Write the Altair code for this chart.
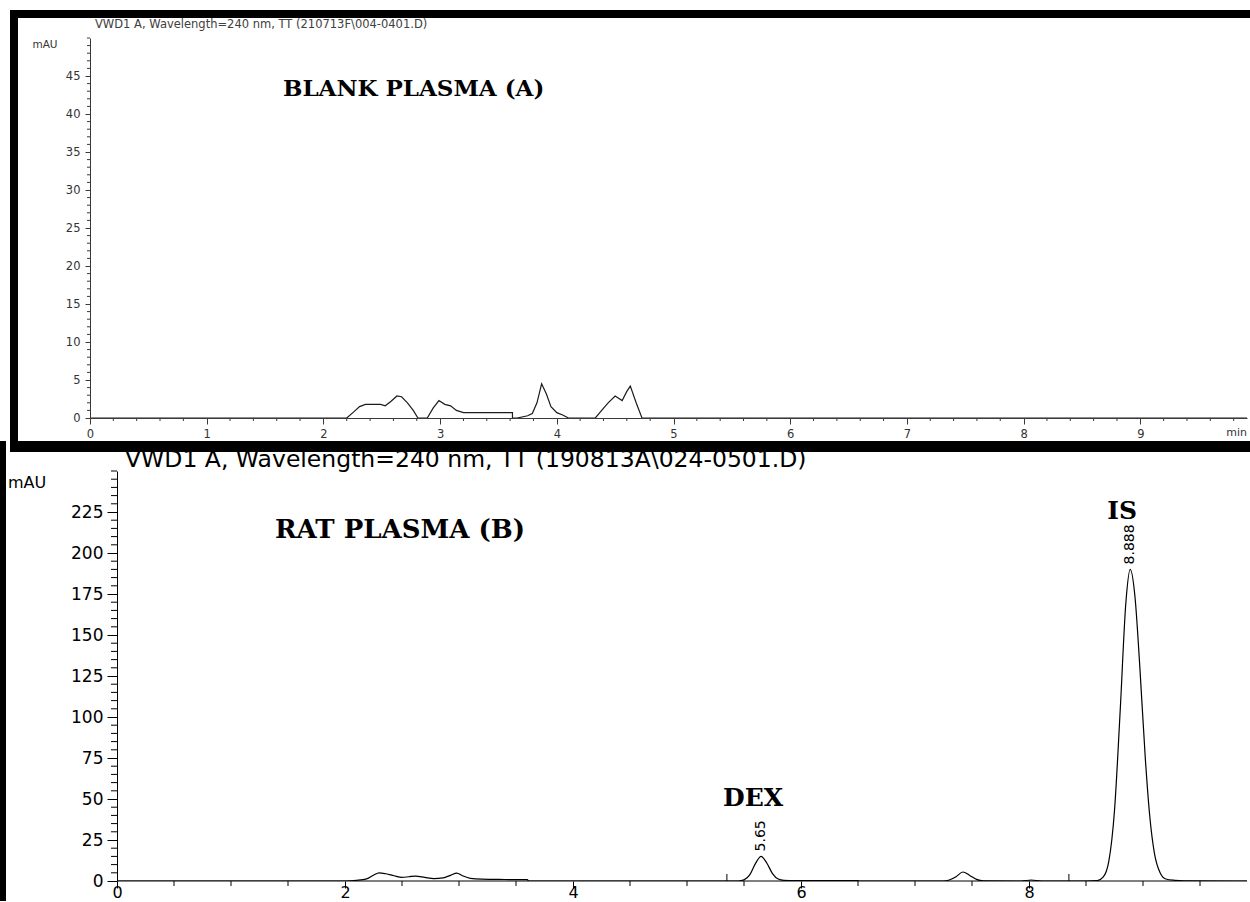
import altair as alt
import pandas as pd

# ---------------------------------------------------------------------------
# Chromatogram data: retention time (min) and absorbance (mAU)
# ---------------------------------------------------------------------------
# (A) blank plasma
A_TIME = [0.00, 2.20, 2.26, 2.31, 2.36, 2.43, 2.49, 2.53, 2.58, 2.63, 2.67,
          2.72, 2.77, 2.81, 2.89, 2.94, 2.99, 3.04, 3.09, 3.14, 3.20, 3.62,
          3.62, 3.66, 3.75, 3.79, 3.83, 3.87, 3.91, 3.95, 4.00, 4.05, 4.10,
          4.33, 4.39, 4.44, 4.50, 4.56, 4.60, 4.63, 4.68, 4.73, 9.95]
A_MAU = [0.0, 0.0, 0.8, 1.5, 1.8, 1.8, 1.8, 1.6, 2.2, 2.9, 2.8,
         2.0, 1.0, 0.0, 0.0, 1.3, 2.3, 1.8, 1.6, 1.0, 0.7, 0.7,
         0.0, 0.0, 0.3, 0.6, 2.0, 4.5, 3.2, 1.5, 0.7, 0.4, 0.0,
         0.0, 1.1, 2.0, 2.9, 2.3, 3.5, 4.2, 2.0, 0.0, 0.0]

# (B) rat plasma
B_TIME = [0.00, 2.00, 2.10, 2.19, 2.25, 2.30, 2.36, 2.43, 2.50, 2.56, 2.62,
          2.70, 2.78, 2.86, 2.93, 2.98, 3.03, 3.10, 3.20, 3.40, 3.60, 3.61,
          5.45, 5.50, 5.55, 5.60, 5.65, 5.70, 5.75, 5.80, 5.85, 5.90, 6.50,
          6.51, 7.25, 7.30, 7.36, 7.42, 7.48, 7.54, 7.60, 7.93, 8.02, 8.11,
          8.50, 8.60, 8.65, 8.70, 8.75, 8.80, 8.85, 8.888, 8.93, 8.97, 9.02,
          9.06, 9.10, 9.15, 9.20, 9.28, 9.36, 9.95]
B_MAU = [0.0, 0.0, 0.4, 1.3, 3.5, 5.0, 4.4, 3.2, 2.2, 2.6, 3.0,
         2.2, 1.5, 1.9, 3.6, 4.8, 3.2, 1.6, 1.1, 0.9, 0.8, 0.0,
         0.0, 0.7, 3.7, 10.6, 15.0, 11.0, 4.5, 1.2, 0.4, 0.3, 0.3,
         0.0, 0.0, 0.6, 2.6, 5.5, 3.4, 1.0, 0.1, 0.0, 0.6, 0.0,
         0.0, 0.3, 2.3, 12.0, 43.0, 104.0, 170.0, 190.0, 173.0, 133.0, 75.0,
         39.0, 17.0, 5.0, 1.2, 0.4, 0.1, 0.0]

# Named peaks in trace B
PEAK_NAME = ["DEX", "IS"]
PEAK_RT = [5.65, 8.888]
PEAK_MAU = [15.0, 190.0]

# Integration event marks on the baseline of trace B
EVENT_RT = [5.35, 8.35]

# Axis ticks
A_XTICKS = [0, 1, 2, 3, 4, 5, 6, 7, 8, 9]
A_YTICKS = [0, 5, 10, 15, 20, 25, 30, 35, 40, 45]
A_XMINOR = [round(i * 0.2, 1) for i in range(50) if i % 5]
A_YMINOR = [i for i in range(51) if i % 5 or i == 50]
B_XTICKS = [0, 2, 4, 6, 8]
B_YTICKS = [0, 25, 50, 75, 100, 125, 150, 175, 200, 225]
B_XMINOR = [i * 0.5 for i in range(20) if i % 4]
B_YMINOR = [i for i in range(0, 251, 5) if i % 25 or i == 250]

TITLE_A = "VWD1 A, Wavelength=240 nm, TT (210713F\\004-0401.D)"
TITLE_B = "VWD1 A, Wavelength=240 nm, TT (190813A\\024-0501.D)"
HEAD_A = "BLANK PLASMA (A)"
HEAD_B = "RAT PLASMA (B)"

# ---------------------------------------------------------------------------
# Geometry of the two panels (pixels)
# ---------------------------------------------------------------------------
W = 1157              # plot width shared by both panels
HA, HB = 380, 410     # plot heights
PX_A, PX_B = 116.7, 114.0   # pixels per minute
B_SHIFT = 27          # y axis of panel B sits this far right of the plot edge

A_XMAX = W / PX_A
B_XMIN = -B_SHIFT / PX_B
B_XMAX = B_XMIN + W / PX_B

SANS = "DejaVu Sans"
SERIF = "DejaVu Serif"
GREY = "#3a3a3a"

ONE = pd.DataFrame({"k": [0]})


def block(x, x2, y, y2, color="black"):
    return alt.Chart(ONE).mark_rect(color=color).encode(
        x=alt.value(x), x2=alt.value(x2), y=alt.value(y), y2=alt.value(y2))


def text(s, x, y, align="left", **kw):
    return alt.Chart(ONE).mark_text(text=s, align=align, baseline="middle", **kw).encode(
        x=alt.value(x), y=alt.value(y))


# ---------------------------------------------------------------------------
# Panel A
# ---------------------------------------------------------------------------
xa = alt.Scale(domain=[0, A_XMAX], nice=False, zero=False)
ya = alt.Scale(domain=[0, 50], nice=False, zero=False)
axA_x = alt.Axis(values=A_XTICKS, format="d", title=None, grid=False, tickSize=6,
                 tickColor=GREY, domainColor=GREY, labelColor="#333", labelFont=SANS,
                 labelFontSize=11.5, labelPadding=4, labelFlush=False, labelOverlap=False)
axA_y = alt.Axis(values=A_YTICKS, format="d", title=None, grid=False, tickSize=5,
                 tickColor=GREY, domainColor=GREY, labelColor="#333", labelFont=SANS,
                 labelFontSize=11.5, labelPadding=5, labelFlush=False, labelOverlap=False)

dfA = pd.DataFrame({"t": A_TIME, "v": A_MAU, "i": range(len(A_TIME))})
traceA = alt.Chart(dfA).mark_line(color="#1c1c1c", strokeWidth=1.2, clip=True).encode(
    x=alt.X("t:Q", scale=xa, axis=axA_x),
    y=alt.Y("v:Q", scale=ya, axis=axA_y),
    order="i:Q",
)
minorAx = alt.Chart(pd.DataFrame({"t": A_XMINOR})).mark_rule(color=GREY).encode(
    x=alt.X("t:Q", scale=xa, axis=axA_x), y=alt.value(HA), y2=alt.value(HA + 3))
minorAy = alt.Chart(pd.DataFrame({"v": A_YMINOR})).mark_rule(color=GREY).encode(
    y=alt.Y("v:Q", scale=ya, axis=axA_y), x=alt.value(-3), x2=alt.value(0))

panelA = alt.layer(
    traceA, minorAx, minorAy,
    block(-80, 1160, -28, -20),        # top frame
    block(-80, -72, -28, 403),         # left frame
    text(TITLE_A, 5, -13, font=SANS, fontSize=11.5, color="#404040"),
    text("mAU", -45, 7, align="center", font=SANS, fontSize=10.5, color="#333"),
    text("min", W, HA + 15, align="right", font=SANS, fontSize=11, color="#333"),
    text(HEAD_A, 193, 51, font=SERIF, fontSize=23, fontWeight="bold", color="black"),
).properties(width=W, height=HA)

# ---------------------------------------------------------------------------
# Panel B
# ---------------------------------------------------------------------------
xb = alt.Scale(domain=[B_XMIN, B_XMAX], nice=False, zero=False)
yb = alt.Scale(domain=[0, 250], nice=False, zero=False)
axB_x = alt.Axis(values=B_XTICKS, format="d", title=None, grid=False, domain=False,
                 tickSize=7, tickColor="black", labelColor="black", labelFont=SANS,
                 labelFontSize=16, labelBaseline="alphabetic", labelPadding=9,
                 labelFlush=False, labelOverlap=False)
axB_y = alt.Axis(values=B_YTICKS, format="d", title=None, grid=False, offset=-B_SHIFT,
                 tickSize=10, tickColor="black", domainColor="black", labelColor="black",
                 labelFont=SANS, labelFontSize=17, labelPadding=4, labelFlush=False,
                 labelOverlap=False)

dfB = pd.DataFrame({"t": B_TIME, "v": B_MAU, "i": range(len(B_TIME))})
traceB = alt.Chart(dfB).mark_line(color="black", strokeWidth=1.2, interpolate="monotone",
                                  clip=True).encode(
    x=alt.X("t:Q", scale=xb, axis=axB_x),
    y=alt.Y("v:Q", scale=yb, axis=axB_y),
    order="i:Q",
)
baseB = alt.Chart(ONE).mark_rule(color="black").encode(
    x=alt.XDatum(0, scale=xb, axis=axB_x), x2=alt.value(W), y=alt.value(HB))
minorBx = alt.Chart(pd.DataFrame({"t": B_XMINOR})).mark_rule(color="black").encode(
    x=alt.X("t:Q", scale=xb, axis=axB_x), y=alt.value(HB), y2=alt.value(HB + 5))
minorBy = alt.Chart(pd.DataFrame({"v": B_YMINOR})).mark_rule(color="black").encode(
    y=alt.Y("v:Q", scale=yb, axis=axB_y), x=alt.value(B_SHIFT - 6), x2=alt.value(B_SHIFT))
eventsB = alt.Chart(pd.DataFrame({"t": EVENT_RT})).mark_rule(color="black").encode(
    x=alt.X("t:Q", scale=xb, axis=axB_x), y=alt.value(HB), y2=alt.value(HB - 7))

peaks = pd.DataFrame({"name": PEAK_NAME, "t": PEAK_RT, "v": PEAK_MAU,
                      "rt": [str(r) for r in PEAK_RT]})
rtLabels = alt.Chart(peaks).mark_text(
    angle=270, align="left", baseline="middle", dx=5, font=SANS, fontSize=14,
    color="black").encode(
    x=alt.X("t:Q", scale=xb, axis=axB_x), y=alt.Y("v:Q", scale=yb, axis=axB_y),
    text="rt:N")
nameLabels = alt.Chart(peaks).mark_text(
    align="center", baseline="middle", dx=-8, dy=-58, font=SERIF, fontSize=25,
    fontWeight="bold", color="black").encode(
    x=alt.X("t:Q", scale=xb, axis=axB_x), y=alt.Y("v:Q", scale=yb, axis=axB_y),
    text="name:N")

panelB = alt.layer(
    traceB, baseB, minorBx, minorBy, eventsB, rtLabels, nameLabels,
    block(-80, 1160, -30, -19),        # separator band
    block(-90, -84, -30, 430),         # left frame
    text(TITLE_B, 35, -11, font=SANS, fontSize=23.5, color="black"),
    text("mAU", -82, 12, font=SANS, fontSize=16, color="black"),
    text(HEAD_B, 185, 59, font=SERIF, fontSize=26, fontWeight="bold", color="black"),
).properties(width=W, height=HB)

chart = alt.vconcat(panelA, panelB, spacing=0).properties(
    padding={"top": 10, "left": 0, "right": 0, "bottom": 0},
    background="white",
).configure_view(strokeWidth=0)

chart.save("out.html", embed_options={"renderer": "svg", "actions": False})
